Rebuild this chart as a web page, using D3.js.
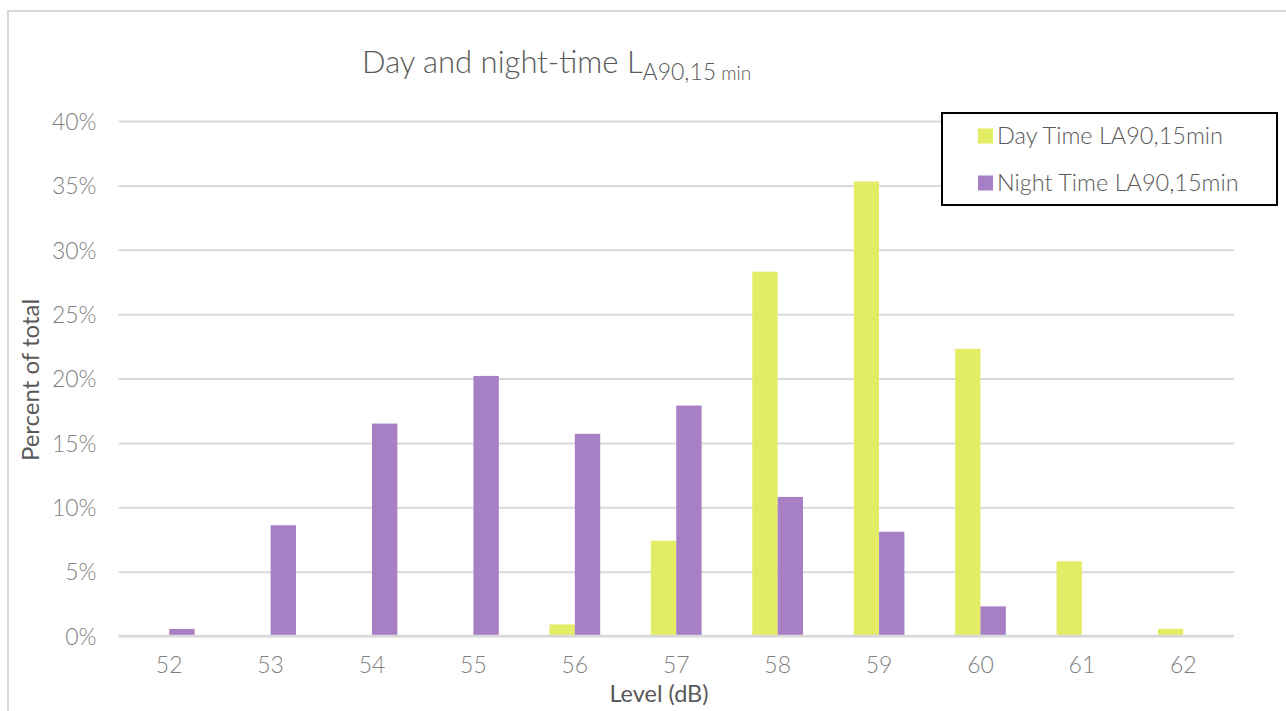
<!DOCTYPE html>
<html>
<head>
<meta charset="utf-8">
<script src="https://cdn.jsdelivr.net/npm/d3@7"></script>
<style>
  html, body { margin: 0; padding: 0; background: #fff; }
  svg { display: block; }
  svg text { font-family: Lato, "Open Sans", sans-serif; }
</style>
</head>
<body>
<svg id="chart" width="1286" height="711"></svg>
<script>
// Sound level bins (dB) and share of measurements in each bin
const levels = ["52", "53", "54", "55", "56", "57", "58", "59", "60", "61", "62"];
const dayValues = [0, 0, 0, 0, 0.9, 7.4, 28.3, 35.3, 22.3, 5.8, 0.55];
const nightValues = [0.55, 8.6, 16.5, 20.2, 15.7, 17.9, 10.8, 8.1, 2.3, 0, 0];
const yTicks = [0, 5, 10, 15, 20, 25, 30, 35, 40];
const seriesNames = ["Day Time LA90,15min", "Night Time LA90,15min"];
const seriesColors = ["#E2EC64", "#A67FC4"];

const svg = d3.select("#chart");
const FONT = 'Lato, "Open Sans", sans-serif';

// outer frame
svg.append("rect")
  .attr("x", 8).attr("y", 11)
  .attr("width", 1300).attr("height", 720)
  .attr("fill", "none").attr("stroke", "#d9d9d9").attr("stroke-width", 2);

const plot = { left: 118.5, right: 1234, top: 121, bottom: 636 };

const x = d3.scaleBand().domain(levels).range([plot.left, plot.right]).paddingInner(0.5).paddingOuter(0.25);
const xs = d3.scaleBand().domain([0, 1]).range([0, x.bandwidth()]);
const y = d3.scaleLinear().domain([0, 40]).range([plot.bottom, plot.top]);

// horizontal gridlines + tick labels
const yAxis = d3.axisLeft(y).tickValues(yTicks).tickSize(-(plot.right - plot.left)).tickPadding(22).tickFormat(d => d + "%");
const gy = svg.append("g").attr("transform", `translate(${plot.left},0)`).call(yAxis)
  .attr("font-family", FONT);
gy.select(".domain").remove();
gy.selectAll(".tick line").attr("stroke", "#d9d9d9").attr("stroke-width", 2);
gy.selectAll(".tick text").attr("fill", "#7f7f7f").attr("font-size", 23).attr("font-weight", 300).attr("dy", "0.36em");

// bars
const series = [dayValues, nightValues];
series.forEach((vals, si) => {
  svg.append("g").selectAll("rect").data(vals.map((v, i) => ({ v, lvl: levels[i] })).filter(d => d.v > 0))
    .join("rect")
    .attr("x", d => x(d.lvl) + xs(si))
    .attr("width", xs.bandwidth())
    .attr("y", d => y(d.v))
    .attr("height", d => y(0) - y(d.v))
    .attr("fill", seriesColors[si]);
});

// baseline
svg.append("line")
  .attr("x1", plot.left).attr("x2", plot.right)
  .attr("y1", y(0)).attr("y2", y(0))
  .attr("stroke", "#d9d9d9").attr("stroke-width", 2.5);

// category axis labels
const xAxis = d3.axisBottom(x).tickSize(0).tickPadding(21);
const gx = svg.append("g").attr("transform", `translate(0,${plot.bottom})`).call(xAxis)
  .attr("font-family", FONT);
gx.select(".domain").remove();
gx.selectAll(".tick text").attr("fill", "#7f7f7f").attr("font-size", 23).attr("font-weight", 300);

// axis titles
svg.append("text")
  .attr("x", 659).attr("y", 702)
  .attr("text-anchor", "middle")
  .attr("fill", "#595959").attr("font-size", 23.5)
  .text("Level (dB)");

svg.append("text")
  .attr("transform", `translate(39,380) rotate(-90)`)
  .attr("text-anchor", "middle")
  .attr("fill", "#595959").attr("font-size", 24)
  .text("Percent of total");

// chart title with subscript
const title = svg.append("text")
  .attr("x", 362).attr("y", 73)
  .attr("fill", "#595959").attr("font-size", 31).attr("font-weight", 300);
title.append("tspan").text("Day and night-time L");
title.append("tspan").attr("dy", 7).attr("font-size", 23).text("A90,15");
title.append("tspan").attr("font-size", 19).text(" min");

// legend
const legend = svg.append("g");
legend.append("rect")
  .attr("x", 942).attr("y", 113).attr("width", 335).attr("height", 92)
  .attr("fill", "#fff").attr("stroke", "#000").attr("stroke-width", 2);
seriesNames.forEach((name, i) => {
  const ly = 136 + i * 47;
  legend.append("rect")
    .attr("x", 978).attr("y", ly - 7.5).attr("width", 15).attr("height", 15)
    .attr("fill", seriesColors[i]);
  legend.append("text")
    .attr("x", 997).attr("y", ly).attr("dy", "0.36em")
    .attr("fill", "#595959").attr("font-size", 23.5).attr("font-weight", 300)
    .text(name);
});
</script>
</body>
</html>
